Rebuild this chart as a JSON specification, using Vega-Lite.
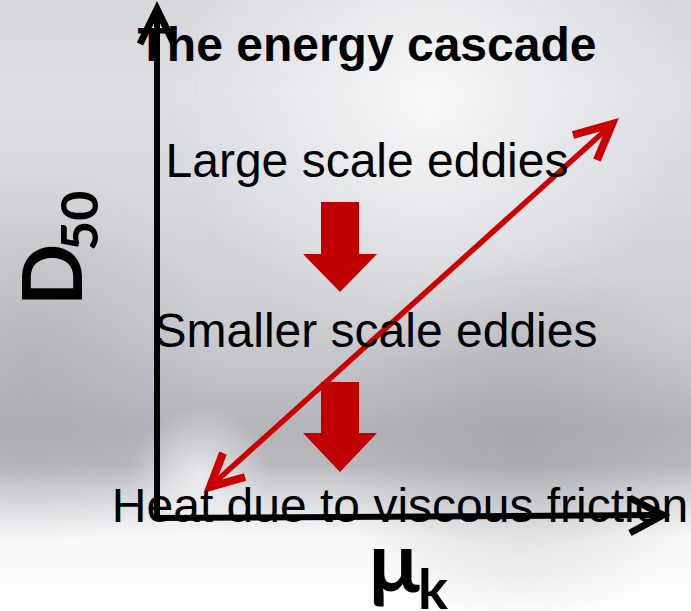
{
  "$schema": "https://vega.github.io/schema/vega-lite/v6.json",
  "width": 691,
  "height": 611,
  "autosize": {"type": "none"},
  "padding": 0,
  "background": "#ffffff",
  "config": {"view": {"stroke": null}},
  "datasets": {
    "bg": [{"x": 0, "y": 0, "x2": 691, "y2": 611}],
    "glow": [{"x": 170, "y": -160, "x2": 690, "y2": 360}],
    "leftDark": [{"x": -160, "y": 170, "x2": 220, "y2": 550}],
    "rightDark": [{"x": 330, "y": 250, "x2": 710, "y2": 630}],
    "lowGlow": [{"x": 130, "y": 405, "x2": 270, "y2": 545}],
    "blackShafts": [{"x": 157, "y": 521, "x2": 157, "y2": 14}, {"x": 154, "y": 518, "x2": 658, "y2": 515}],
    "blackHeads": [
      {"id": "v", "o": 0, "x": 140, "y": 44}, {"id": "v", "o": 1, "x": 157, "y": 9}, {"id": "v", "o": 2, "x": 174, "y": 44},
      {"id": "h", "o": 0, "x": 630, "y": 498}, {"id": "h", "o": 1, "x": 663, "y": 515}, {"id": "h", "o": 2, "x": 630, "y": 533}
    ],
    "redShaft": [{"x": 212, "y": 485, "x2": 609, "y2": 127}],
    "redHeads": [
      {"id": "u", "o": 0, "x": 573, "y": 135}, {"id": "u", "o": 1, "x": 612, "y": 124}, {"id": "u", "o": 2, "x": 597, "y": 160},
      {"id": "l", "o": 0, "x": 223, "y": 453}, {"id": "l", "o": 1, "x": 210, "y": 487}, {"id": "l", "o": 2, "x": 245, "y": 477}
    ],
    "blockShafts": [{"x": 321, "x2": 359, "y": 202, "y2": 255}, {"x": 321, "x2": 359, "y": 382, "y2": 434}],
    "blockHeads": [
      {"id": 1, "x": 303, "y": 254, "y2": 254}, {"id": 1, "x": 340, "y": 254, "y2": 292}, {"id": 1, "x": 377, "y": 254, "y2": 254},
      {"id": 2, "x": 303, "y": 433, "y2": 433}, {"id": 2, "x": 340, "y": 433, "y2": 472}, {"id": 2, "x": 377, "y": 433, "y2": 433}
    ],
    "title": [{"t": "The energy cascade", "x": 367, "y": 61}],
    "body": [
      {"t": "Large scale eddies", "x": 367, "y": 177},
      {"t": "Smaller scale eddies", "x": 376, "y": 347},
      {"t": "Heat due to viscous friction", "x": 400, "y": 522}
    ],
    "dMain": [{"t": "D", "x": 82, "y": 306}],
    "dSub": [{"t": "50", "x": 98, "y": 251}],
    "muMain": [{"t": "µ", "x": 367, "y": 592}],
    "muSub": [{"t": "k", "x": 418, "y": 609}]
  },
  "encoding": {
    "x": {"field": "x", "type": "quantitative", "scale": {"domain": [0, 691], "nice": false, "zero": false}, "axis": null},
    "y": {"field": "y", "type": "quantitative", "scale": {"domain": [0, 611], "nice": false, "zero": false, "reverse": true}, "axis": null}
  },
  "layer": [
    {
      "data": {"name": "bg"},
      "mark": {"type": "rect", "fill": {"gradient": "linear", "x1": 0, "y1": 0, "x2": 0, "y2": 1, "stops": [
        {"offset": 0, "color": "#d6d8dc"},
        {"offset": 0.15, "color": "#dcdee2"},
        {"offset": 0.35, "color": "#d5d7db"},
        {"offset": 0.55, "color": "#c9cbcf"},
        {"offset": 0.63, "color": "#bfc0c5"},
        {"offset": 0.70, "color": "#b3b4b9"},
        {"offset": 0.76, "color": "#b8b9bd"},
        {"offset": 0.80, "color": "#d2d3d6"},
        {"offset": 0.84, "color": "#e6e7e9"},
        {"offset": 0.88, "color": "#f8f8f9"},
        {"offset": 1, "color": "#ffffff"}
      ]}},
      "encoding": {"x2": {"field": "x2"}, "y2": {"field": "y2"}}
    },
    {
      "data": {"name": "glow"},
      "mark": {"type": "rect", "fill": {"gradient": "radial", "x1": 0.5, "y1": 0.5, "r1": 0, "x2": 0.5, "y2": 0.5, "r2": 0.5, "stops": [
        {"offset": 0, "color": "rgba(255,255,255,0.8)"},
        {"offset": 0.5, "color": "rgba(255,255,255,0.35)"},
        {"offset": 1, "color": "rgba(255,255,255,0)"}
      ]}},
      "encoding": {"x2": {"field": "x2"}, "y2": {"field": "y2"}}
    },
    {
      "data": {"name": "leftDark"},
      "mark": {"type": "rect", "fill": {"gradient": "radial", "x1": 0.5, "y1": 0.5, "r1": 0, "x2": 0.5, "y2": 0.5, "r2": 0.5, "stops": [
        {"offset": 0, "color": "rgba(150,152,158,0.4)"},
        {"offset": 1, "color": "rgba(150,152,158,0)"}
      ]}},
      "encoding": {"x2": {"field": "x2"}, "y2": {"field": "y2"}}
    },
    {
      "data": {"name": "rightDark"},
      "mark": {"type": "rect", "fill": {"gradient": "radial", "x1": 0.5, "y1": 0.5, "r1": 0, "x2": 0.5, "y2": 0.5, "r2": 0.5, "stops": [
        {"offset": 0, "color": "rgba(145,143,150,0.4)"},
        {"offset": 1, "color": "rgba(145,143,150,0)"}
      ]}},
      "encoding": {"x2": {"field": "x2"}, "y2": {"field": "y2"}}
    },
    {
      "data": {"name": "lowGlow"},
      "mark": {"type": "rect", "fill": {"gradient": "radial", "x1": 0.5, "y1": 0.5, "r1": 0, "x2": 0.5, "y2": 0.5, "r2": 0.5, "stops": [
        {"offset": 0, "color": "rgba(250,250,252,0.7)"},
        {"offset": 1, "color": "rgba(250,250,252,0)"}
      ]}},
      "encoding": {"x2": {"field": "x2"}, "y2": {"field": "y2"}}
    },
    {
      "data": {"name": "redShaft"},
      "mark": {"type": "rule", "color": "#cc0000", "strokeWidth": 5.5},
      "encoding": {"x2": {"field": "x2"}, "y2": {"field": "y2"}}
    },
    {
      "data": {"name": "redHeads"},
      "mark": {"type": "line", "color": "#cc0000", "strokeWidth": 8, "strokeJoin": "miter", "strokeCap": "butt"},
      "encoding": {"detail": {"field": "id"}, "order": {"field": "o", "type": "quantitative"}}
    },
    {
      "data": {"name": "blockShafts"},
      "mark": {"type": "rect", "color": "#c00000"},
      "encoding": {"x2": {"field": "x2"}, "y2": {"field": "y2"}}
    },
    {
      "data": {"name": "blockHeads"},
      "mark": {"type": "area", "color": "#c00000", "orient": "vertical", "opacity": 1},
      "encoding": {"y2": {"field": "y2"}, "detail": {"field": "id"}}
    },
    {
      "data": {"name": "blackShafts"},
      "mark": {"type": "rule", "color": "#000000", "strokeWidth": 6},
      "encoding": {"x2": {"field": "x2"}, "y2": {"field": "y2"}}
    },
    {
      "data": {"name": "blackHeads"},
      "mark": {"type": "line", "color": "#000000", "strokeWidth": 7, "strokeJoin": "miter", "strokeCap": "butt"},
      "encoding": {"detail": {"field": "id"}, "order": {"field": "o", "type": "quantitative"}}
    },
    {
      "data": {"name": "title"},
      "mark": {"type": "text", "font": "Liberation Sans", "fontSize": 48, "fontWeight": "bold", "color": "#000000", "align": "center", "baseline": "alphabetic"},
      "encoding": {"text": {"field": "t"}}
    },
    {
      "data": {"name": "body"},
      "mark": {"type": "text", "font": "Liberation Sans", "fontSize": 48, "color": "#000000", "align": "center", "baseline": "alphabetic"},
      "encoding": {"text": {"field": "t"}}
    },
    {
      "data": {"name": "dMain"},
      "mark": {"type": "text", "font": "Lato", "fontSize": 82, "fontWeight": "bold", "color": "#000000", "align": "left", "baseline": "alphabetic", "angle": 270},
      "encoding": {"text": {"field": "t"}}
    },
    {
      "data": {"name": "dSub"},
      "mark": {"type": "text", "font": "Lato", "fontSize": 52, "fontWeight": "bold", "color": "#000000", "align": "left", "baseline": "alphabetic", "angle": 270},
      "encoding": {"text": {"field": "t"}}
    },
    {
      "data": {"name": "muMain"},
      "mark": {"type": "text", "font": "Lato", "fontSize": 84, "fontWeight": "bold", "color": "#000000", "align": "left", "baseline": "alphabetic"},
      "encoding": {"text": {"field": "t"}}
    },
    {
      "data": {"name": "muSub"},
      "mark": {"type": "text", "font": "Lato", "fontSize": 56, "fontWeight": "bold", "color": "#000000", "align": "left", "baseline": "alphabetic"},
      "encoding": {"text": {"field": "t"}}
    }
  ]
}
